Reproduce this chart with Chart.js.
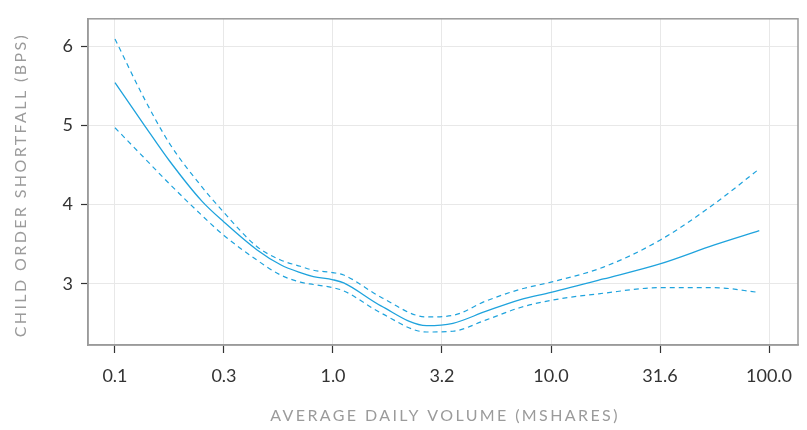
<!DOCTYPE html>
<html>
<head>
<meta charset="utf-8">
<script src="https://cdn.jsdelivr.net/npm/chart.js@4"></script>
<style>
  html, body { margin: 0; padding: 0; background: #fff; }
  #wrap { width: 807px; height: 430px; }
</style>
</head>
<body>
<div id="wrap"><canvas id="chart" width="807" height="430"></canvas></div>
<script>
// Average daily volume (Mshares) sample points
const volume = [0.1, 0.135, 0.178, 0.251, 0.316, 0.447, 0.575, 0.708, 0.813, 1.0, 1.12,
                1.66, 2.69, 3.55, 5.01, 7.24, 10.0, 17.4, 31.6, 56.2, 90.2];
// Child order shortfall (bps)
const shortfall = [5.54, 5.02, 4.55, 4.04, 3.78, 3.43, 3.24, 3.14, 3.09, 3.05, 3.01,
                   2.72, 2.47, 2.50, 2.65, 2.80, 2.89, 3.06, 3.25, 3.49, 3.67];
const upperBand = [6.09, 5.36, 4.77, 4.22, 3.90, 3.47, 3.30, 3.22, 3.17, 3.14, 3.11,
                   2.83, 2.58, 2.60, 2.78, 2.93, 3.02, 3.21, 3.55, 4.01, 4.45];
const lowerBand = [4.97, 4.60, 4.26, 3.86, 3.61, 3.30, 3.11, 3.02, 2.99, 2.95, 2.91,
                   2.63, 2.39, 2.40, 2.54, 2.70, 2.79, 2.88, 2.95, 2.95, 2.89];

const xTickValues = [0.1, 0.3162, 1, 3.162, 10, 31.62, 100];
const xTickLabels = ['0.1', '0.3', '1.0', '3.2', '10.0', '31.6', '100.0'];
const yTickValues = [3, 4, 5, 6];

const xTitle = 'AVERAGE DAILY VOLUME (MSHARES)';
const yTitle = 'CHILD ORDER SHORTFALL (BPS)';

const lineColor = '#1fa3dd';
const fontFamily = 'Lato, "Noto Sans", sans-serif';

const toPoints = (ys) => ys.map((y, i) => ({x: volume[i], y: y}));

// Frame + spaced axis titles
const framePlugin = {
    id: 'frame',
    afterDraw(chart) {
        const {ctx, chartArea} = chart;
        ctx.save();
        ctx.strokeStyle = '#9a9a9a';
        ctx.lineWidth = 1.5;
        ctx.strokeRect(chartArea.left, chartArea.top,
                       chartArea.right - chartArea.left, chartArea.bottom - chartArea.top);

        ctx.fillStyle = '#9b9b9b';
        ctx.font = '16px ' + fontFamily;
        ctx.letterSpacing = '2.4px';
        ctx.textAlign = 'center';
        ctx.textBaseline = 'middle';
        ctx.fillText(xTitle, (chartArea.left + chartArea.right) / 2 + 2, 416);

        ctx.translate(21, 185);
        ctx.rotate(-Math.PI / 2);
        ctx.fillText(yTitle, 0, 0);
        ctx.restore();
    }
};

const band = (data) => ({
    data: toPoints(data),
    borderColor: lineColor,
    borderWidth: 1.2,
    borderDash: [5, 4],
    pointRadius: 0,
    cubicInterpolationMode: 'monotone',
    fill: false
});

new Chart(document.getElementById('chart'), {
    type: 'line',
    data: {
        datasets: [
            {
                data: toPoints(shortfall),
                borderColor: lineColor,
                borderWidth: 1.3,
                pointRadius: 0,
                cubicInterpolationMode: 'monotone',
                fill: false
            },
            band(upperBand),
            band(lowerBand)
        ]
    },
    options: {
        responsive: false,
        animation: false,
        layout: {
            padding: {left: 0, right: 9, top: 12, bottom: 0}
        },
        plugins: {
            legend: {display: false},
            tooltip: {enabled: false}
        },
        scales: {
            x: {
                type: 'logarithmic',
                min: 0.0752,
                max: 135.8,
                afterBuildTicks: (scale) => {
                    scale.ticks = xTickValues.map(v => ({value: v}));
                },
                afterFit: (scale) => { scale.height = 85; },
                grid: {
                    color: '#e8e8e8',
                    tickColor: '#333',
                    tickLength: 8,
                    tickWidth: 1.2
                },
                border: {display: true, color: '#9a9a9a', width: 1.5},
                ticks: {
                    autoSkip: false,
                    maxRotation: 0,
                    padding: 12,
                    color: '#333',
                    font: {family: fontFamily, size: 18},
                    callback: (value, index) => xTickLabels[index]
                }
            },
            y: {
                min: 2.226,
                max: 6.346,
                afterBuildTicks: (scale) => {
                    scale.ticks = yTickValues.map(v => ({value: v}));
                },
                afterFit: (scale) => { scale.width = 88; },
                grid: {
                    color: '#e8e8e8',
                    tickColor: '#333',
                    tickLength: 7,
                    tickWidth: 1.2
                },
                border: {display: true, color: '#9a9a9a', width: 1.5},
                ticks: {
                    padding: 8,
                    color: '#333',
                    font: {family: fontFamily, size: 18},
                    callback: (value) => String(value)
                }
            }
        }
    },
    plugins: [framePlugin]
});
</script>
</body>
</html>
